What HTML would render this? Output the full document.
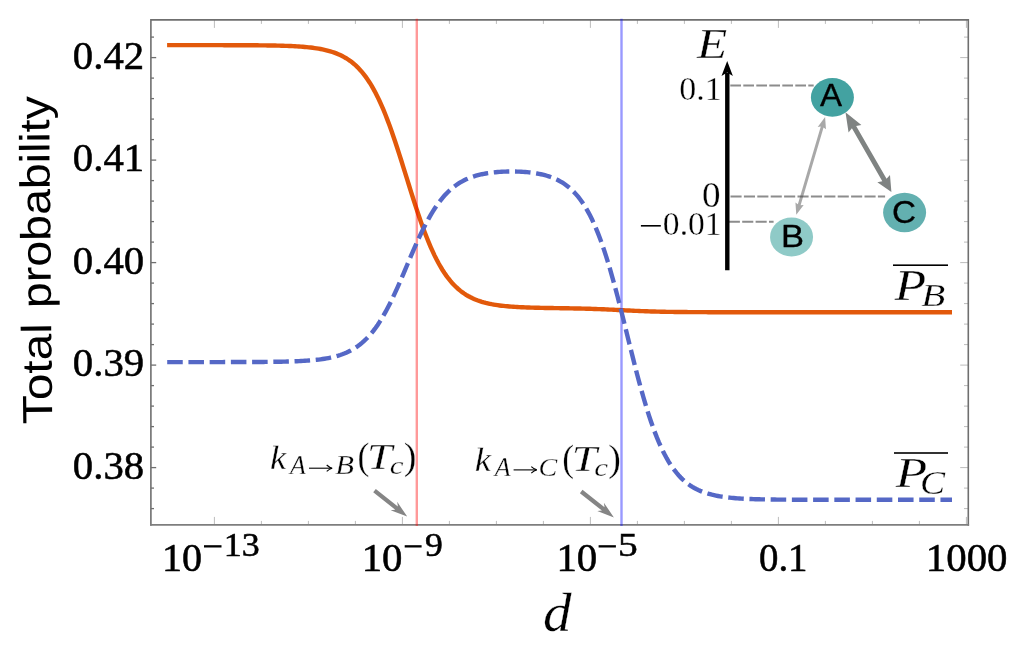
<!DOCTYPE html>
<html><head><meta charset="utf-8"><title>chart</title>
<style>
html,body{margin:0;padding:0;background:#fff;}
body{width:1024px;height:650px;overflow:hidden;}
svg{display:block;will-change:transform;}
text{font-family:"Liberation Serif",serif;fill:#000;}
.sans{font-family:"Liberation Sans",sans-serif;}
.it{font-style:italic;}
.tk{stroke:#000;stroke-width:0.55px;}
.cm{stroke:#fff;stroke-width:0.3px;}
.bl{stroke:#000;stroke-width:0.3px;}
</style></head><body>
<svg width="1024" height="650" viewBox="0 0 1024 650">
<rect width="1024" height="650" fill="#fff"/>
<g><line x1="150.9" y1="37.10" x2="154.0" y2="37.10" stroke="#6f6f6f" stroke-width="1.3"/>
<line x1="968.2" y1="37.10" x2="964.0" y2="37.10" stroke="#bcbcbc" stroke-width="1"/>
<line x1="150.9" y1="57.60" x2="156.20000000000002" y2="57.60" stroke="#6f6f6f" stroke-width="1.3"/>
<line x1="968.2" y1="57.60" x2="960.2" y2="57.60" stroke="#bcbcbc" stroke-width="1"/>
<line x1="150.9" y1="78.10" x2="154.0" y2="78.10" stroke="#6f6f6f" stroke-width="1.3"/>
<line x1="968.2" y1="78.10" x2="964.0" y2="78.10" stroke="#bcbcbc" stroke-width="1"/>
<line x1="150.9" y1="98.60" x2="154.0" y2="98.60" stroke="#6f6f6f" stroke-width="1.3"/>
<line x1="968.2" y1="98.60" x2="964.0" y2="98.60" stroke="#bcbcbc" stroke-width="1"/>
<line x1="150.9" y1="119.10" x2="154.0" y2="119.10" stroke="#6f6f6f" stroke-width="1.3"/>
<line x1="968.2" y1="119.10" x2="964.0" y2="119.10" stroke="#bcbcbc" stroke-width="1"/>
<line x1="150.9" y1="139.60" x2="154.0" y2="139.60" stroke="#6f6f6f" stroke-width="1.3"/>
<line x1="968.2" y1="139.60" x2="964.0" y2="139.60" stroke="#bcbcbc" stroke-width="1"/>
<line x1="150.9" y1="160.10" x2="156.20000000000002" y2="160.10" stroke="#6f6f6f" stroke-width="1.3"/>
<line x1="968.2" y1="160.10" x2="960.2" y2="160.10" stroke="#bcbcbc" stroke-width="1"/>
<line x1="150.9" y1="180.60" x2="154.0" y2="180.60" stroke="#6f6f6f" stroke-width="1.3"/>
<line x1="968.2" y1="180.60" x2="964.0" y2="180.60" stroke="#bcbcbc" stroke-width="1"/>
<line x1="150.9" y1="201.10" x2="154.0" y2="201.10" stroke="#6f6f6f" stroke-width="1.3"/>
<line x1="968.2" y1="201.10" x2="964.0" y2="201.10" stroke="#bcbcbc" stroke-width="1"/>
<line x1="150.9" y1="221.60" x2="154.0" y2="221.60" stroke="#6f6f6f" stroke-width="1.3"/>
<line x1="968.2" y1="221.60" x2="964.0" y2="221.60" stroke="#bcbcbc" stroke-width="1"/>
<line x1="150.9" y1="242.10" x2="154.0" y2="242.10" stroke="#6f6f6f" stroke-width="1.3"/>
<line x1="968.2" y1="242.10" x2="964.0" y2="242.10" stroke="#bcbcbc" stroke-width="1"/>
<line x1="150.9" y1="262.60" x2="156.20000000000002" y2="262.60" stroke="#6f6f6f" stroke-width="1.3"/>
<line x1="968.2" y1="262.60" x2="960.2" y2="262.60" stroke="#bcbcbc" stroke-width="1"/>
<line x1="150.9" y1="283.10" x2="154.0" y2="283.10" stroke="#6f6f6f" stroke-width="1.3"/>
<line x1="968.2" y1="283.10" x2="964.0" y2="283.10" stroke="#bcbcbc" stroke-width="1"/>
<line x1="150.9" y1="303.60" x2="154.0" y2="303.60" stroke="#6f6f6f" stroke-width="1.3"/>
<line x1="968.2" y1="303.60" x2="964.0" y2="303.60" stroke="#bcbcbc" stroke-width="1"/>
<line x1="150.9" y1="324.10" x2="154.0" y2="324.10" stroke="#6f6f6f" stroke-width="1.3"/>
<line x1="968.2" y1="324.10" x2="964.0" y2="324.10" stroke="#bcbcbc" stroke-width="1"/>
<line x1="150.9" y1="344.60" x2="154.0" y2="344.60" stroke="#6f6f6f" stroke-width="1.3"/>
<line x1="968.2" y1="344.60" x2="964.0" y2="344.60" stroke="#bcbcbc" stroke-width="1"/>
<line x1="150.9" y1="365.10" x2="156.20000000000002" y2="365.10" stroke="#6f6f6f" stroke-width="1.3"/>
<line x1="968.2" y1="365.10" x2="960.2" y2="365.10" stroke="#bcbcbc" stroke-width="1"/>
<line x1="150.9" y1="385.60" x2="154.0" y2="385.60" stroke="#6f6f6f" stroke-width="1.3"/>
<line x1="968.2" y1="385.60" x2="964.0" y2="385.60" stroke="#bcbcbc" stroke-width="1"/>
<line x1="150.9" y1="406.10" x2="154.0" y2="406.10" stroke="#6f6f6f" stroke-width="1.3"/>
<line x1="968.2" y1="406.10" x2="964.0" y2="406.10" stroke="#bcbcbc" stroke-width="1"/>
<line x1="150.9" y1="426.60" x2="154.0" y2="426.60" stroke="#6f6f6f" stroke-width="1.3"/>
<line x1="968.2" y1="426.60" x2="964.0" y2="426.60" stroke="#bcbcbc" stroke-width="1"/>
<line x1="150.9" y1="447.10" x2="154.0" y2="447.10" stroke="#6f6f6f" stroke-width="1.3"/>
<line x1="968.2" y1="447.10" x2="964.0" y2="447.10" stroke="#bcbcbc" stroke-width="1"/>
<line x1="150.9" y1="467.60" x2="156.20000000000002" y2="467.60" stroke="#6f6f6f" stroke-width="1.3"/>
<line x1="968.2" y1="467.60" x2="960.2" y2="467.60" stroke="#bcbcbc" stroke-width="1"/>
<line x1="150.9" y1="488.10" x2="154.0" y2="488.10" stroke="#6f6f6f" stroke-width="1.3"/>
<line x1="968.2" y1="488.10" x2="964.0" y2="488.10" stroke="#bcbcbc" stroke-width="1"/>
<line x1="150.9" y1="508.60" x2="154.0" y2="508.60" stroke="#6f6f6f" stroke-width="1.3"/>
<line x1="968.2" y1="508.60" x2="964.0" y2="508.60" stroke="#bcbcbc" stroke-width="1"/>
<line x1="214.40" y1="524.9" x2="214.40" y2="516.9" stroke="#bcbcbc" stroke-width="1"/>
<line x1="214.40" y1="19.9" x2="214.40" y2="27.9" stroke="#bcbcbc" stroke-width="1"/>
<line x1="261.40" y1="524.9" x2="261.40" y2="520.9" stroke="#bcbcbc" stroke-width="1"/>
<line x1="261.40" y1="19.9" x2="261.40" y2="23.9" stroke="#bcbcbc" stroke-width="1"/>
<line x1="308.40" y1="524.9" x2="308.40" y2="520.9" stroke="#bcbcbc" stroke-width="1"/>
<line x1="308.40" y1="19.9" x2="308.40" y2="23.9" stroke="#bcbcbc" stroke-width="1"/>
<line x1="355.40" y1="524.9" x2="355.40" y2="520.9" stroke="#bcbcbc" stroke-width="1"/>
<line x1="355.40" y1="19.9" x2="355.40" y2="23.9" stroke="#bcbcbc" stroke-width="1"/>
<line x1="402.40" y1="524.9" x2="402.40" y2="516.9" stroke="#bcbcbc" stroke-width="1"/>
<line x1="402.40" y1="19.9" x2="402.40" y2="27.9" stroke="#bcbcbc" stroke-width="1"/>
<line x1="449.40" y1="524.9" x2="449.40" y2="520.9" stroke="#bcbcbc" stroke-width="1"/>
<line x1="449.40" y1="19.9" x2="449.40" y2="23.9" stroke="#bcbcbc" stroke-width="1"/>
<line x1="496.40" y1="524.9" x2="496.40" y2="520.9" stroke="#bcbcbc" stroke-width="1"/>
<line x1="496.40" y1="19.9" x2="496.40" y2="23.9" stroke="#bcbcbc" stroke-width="1"/>
<line x1="543.40" y1="524.9" x2="543.40" y2="520.9" stroke="#bcbcbc" stroke-width="1"/>
<line x1="543.40" y1="19.9" x2="543.40" y2="23.9" stroke="#bcbcbc" stroke-width="1"/>
<line x1="590.40" y1="524.9" x2="590.40" y2="516.9" stroke="#bcbcbc" stroke-width="1"/>
<line x1="590.40" y1="19.9" x2="590.40" y2="27.9" stroke="#bcbcbc" stroke-width="1"/>
<line x1="637.40" y1="524.9" x2="637.40" y2="520.9" stroke="#bcbcbc" stroke-width="1"/>
<line x1="637.40" y1="19.9" x2="637.40" y2="23.9" stroke="#bcbcbc" stroke-width="1"/>
<line x1="684.40" y1="524.9" x2="684.40" y2="520.9" stroke="#bcbcbc" stroke-width="1"/>
<line x1="684.40" y1="19.9" x2="684.40" y2="23.9" stroke="#bcbcbc" stroke-width="1"/>
<line x1="731.40" y1="524.9" x2="731.40" y2="520.9" stroke="#bcbcbc" stroke-width="1"/>
<line x1="731.40" y1="19.9" x2="731.40" y2="23.9" stroke="#bcbcbc" stroke-width="1"/>
<line x1="778.40" y1="524.9" x2="778.40" y2="516.9" stroke="#bcbcbc" stroke-width="1"/>
<line x1="778.40" y1="19.9" x2="778.40" y2="27.9" stroke="#bcbcbc" stroke-width="1"/>
<line x1="825.40" y1="524.9" x2="825.40" y2="520.9" stroke="#bcbcbc" stroke-width="1"/>
<line x1="825.40" y1="19.9" x2="825.40" y2="23.9" stroke="#bcbcbc" stroke-width="1"/>
<line x1="872.40" y1="524.9" x2="872.40" y2="520.9" stroke="#bcbcbc" stroke-width="1"/>
<line x1="872.40" y1="19.9" x2="872.40" y2="23.9" stroke="#bcbcbc" stroke-width="1"/>
<line x1="919.40" y1="524.9" x2="919.40" y2="520.9" stroke="#bcbcbc" stroke-width="1"/>
<line x1="919.40" y1="19.9" x2="919.40" y2="23.9" stroke="#bcbcbc" stroke-width="1"/>
<line x1="966.40" y1="524.9" x2="966.40" y2="516.9" stroke="#bcbcbc" stroke-width="1"/>
<line x1="966.40" y1="19.9" x2="966.40" y2="27.9" stroke="#bcbcbc" stroke-width="1"/></g>
<path d="M150.9,525.75 L150.9,19.9 L968.3000000000001,19.9 L968.3000000000001,525.75" fill="none" stroke="#6f6f6f" stroke-width="1.6" stroke-linejoin="miter"/>
<line x1="150.1" y1="524.9" x2="969.1" y2="524.9" stroke="#7e7e7e" stroke-width="1.7"/>
<path d="M167.10,45.14 L169.07,45.14 L171.03,45.14 L173.00,45.14 L174.97,45.14 L176.94,45.14 L178.90,45.14 L180.87,45.14 L182.84,45.14 L184.80,45.15 L186.77,45.15 L188.74,45.15 L190.71,45.15 L192.67,45.15 L194.64,45.15 L196.61,45.15 L198.57,45.15 L200.54,45.15 L202.51,45.15 L204.48,45.15 L206.44,45.15 L208.41,45.16 L210.38,45.16 L212.34,45.16 L214.31,45.16 L216.28,45.16 L218.25,45.17 L220.21,45.17 L222.18,45.17 L224.15,45.18 L226.12,45.18 L228.08,45.18 L230.05,45.19 L232.02,45.19 L233.98,45.20 L235.95,45.20 L237.92,45.21 L239.89,45.22 L241.85,45.22 L243.82,45.23 L245.79,45.24 L247.75,45.25 L249.72,45.26 L251.69,45.27 L253.66,45.29 L255.62,45.30 L257.59,45.32 L259.56,45.34 L261.52,45.36 L263.49,45.38 L265.46,45.40 L267.43,45.43 L269.39,45.46 L271.36,45.49 L273.33,45.53 L275.29,45.57 L277.26,45.61 L279.23,45.66 L281.20,45.71 L283.16,45.77 L285.13,45.83 L287.10,45.90 L289.06,45.98 L291.03,46.06 L293.00,46.16 L294.97,46.26 L296.93,46.37 L298.90,46.50 L300.87,46.63 L302.83,46.78 L304.80,46.95 L306.77,47.13 L308.74,47.33 L310.70,47.55 L312.67,47.79 L314.64,48.06 L316.60,48.35 L318.57,48.67 L320.54,49.02 L322.51,49.41 L324.47,49.83 L326.44,50.29 L328.41,50.81 L330.37,51.36 L332.34,51.98 L334.31,52.65 L336.28,53.39 L338.24,54.19 L340.21,55.07 L342.18,56.04 L344.15,57.09 L346.11,58.24 L348.08,59.49 L350.05,60.86 L352.01,62.34 L353.98,63.96 L355.95,65.71 L357.92,67.61 L359.88,69.68 L361.85,71.91 L363.82,74.31 L365.78,76.91 L367.75,79.70 L369.72,82.70 L371.69,85.91 L373.65,89.34 L375.62,93.00 L377.59,96.89 L379.55,101.01 L381.52,105.37 L383.49,109.96 L385.46,114.78 L387.42,119.83 L389.39,125.09 L391.36,130.55 L393.32,136.20 L395.29,142.01 L397.26,147.98 L399.23,154.08 L401.19,160.27 L403.16,166.55 L405.13,172.86 L407.09,179.20 L409.06,185.52 L411.03,191.80 L413.00,198.02 L414.96,204.13 L416.93,210.13 L418.90,215.98 L420.86,221.66 L422.83,227.16 L424.80,232.46 L426.77,237.55 L428.73,242.41 L430.70,247.05 L432.67,251.45 L434.63,255.62 L436.60,259.55 L438.57,263.25 L440.54,266.73 L442.50,269.98 L444.47,273.02 L446.44,275.85 L448.41,278.48 L450.37,280.93 L452.34,283.19 L454.31,285.28 L456.27,287.22 L458.24,289.00 L460.21,290.64 L462.18,292.15 L464.14,293.54 L466.11,294.81 L468.08,295.98 L470.04,297.05 L472.01,298.03 L473.98,298.93 L475.95,299.75 L477.91,300.50 L479.88,301.18 L481.85,301.81 L483.81,302.38 L485.78,302.90 L487.75,303.37 L489.72,303.80 L491.68,304.20 L493.65,304.55 L495.62,304.88 L497.58,305.18 L499.55,305.45 L501.52,305.70 L503.49,305.92 L505.45,306.13 L507.42,306.31 L509.39,306.48 L511.35,306.64 L513.32,306.78 L515.29,306.91 L517.26,307.02 L519.22,307.13 L521.19,307.23 L523.16,307.32 L525.12,307.40 L527.09,307.47 L529.06,307.54 L531.03,307.60 L532.99,307.66 L534.96,307.72 L536.93,307.77 L538.89,307.81 L540.86,307.86 L542.83,307.90 L544.80,307.93 L546.76,307.97 L548.73,308.01 L550.70,308.04 L552.66,308.07 L554.63,308.10 L556.60,308.13 L558.57,308.16 L560.53,308.19 L562.50,308.23 L564.47,308.26 L566.44,308.29 L568.40,308.32 L570.37,308.36 L572.34,308.39 L574.30,308.43 L576.27,308.47 L578.24,308.51 L580.21,308.56 L582.17,308.60 L584.14,308.65 L586.11,308.70 L588.07,308.76 L590.04,308.82 L592.01,308.88 L593.98,308.94 L595.94,309.01 L597.91,309.08 L599.88,309.16 L601.84,309.23 L603.81,309.32 L605.78,309.40 L607.75,309.49 L609.71,309.58 L611.68,309.67 L613.65,309.77 L615.61,309.86 L617.58,309.96 L619.55,310.06 L621.52,310.16 L623.48,310.26 L625.45,310.36 L627.42,310.46 L629.38,310.55 L631.35,310.65 L633.32,310.74 L635.29,310.83 L637.25,310.92 L639.22,311.00 L641.19,311.09 L643.15,311.16 L645.12,311.24 L647.09,311.31 L649.06,311.38 L651.02,311.44 L652.99,311.50 L654.96,311.56 L656.92,311.61 L658.89,311.66 L660.86,311.71 L662.83,311.75 L664.79,311.79 L666.76,311.83 L668.73,311.86 L670.69,311.89 L672.66,311.92 L674.63,311.95 L676.60,311.98 L678.56,312.00 L680.53,312.02 L682.50,312.04 L684.47,312.06 L686.43,312.07 L688.40,312.09 L690.37,312.10 L692.33,312.11 L694.30,312.12 L696.27,312.13 L698.24,312.14 L700.20,312.15 L702.17,312.16 L704.14,312.17 L706.10,312.17 L708.07,312.18 L710.04,312.19 L712.01,312.19 L713.97,312.20 L715.94,312.20 L717.91,312.20 L719.87,312.21 L721.84,312.21 L723.81,312.21 L725.78,312.21 L727.74,312.22 L729.71,312.22 L731.68,312.22 L733.64,312.22 L735.61,312.22 L737.58,312.23 L739.55,312.23 L741.51,312.23 L743.48,312.23 L745.45,312.23 L747.41,312.23 L749.38,312.23 L751.35,312.23 L753.32,312.23 L755.28,312.23 L757.25,312.23 L759.22,312.24 L761.18,312.24 L763.15,312.24 L765.12,312.24 L767.09,312.24 L769.05,312.24 L771.02,312.24 L772.99,312.24 L774.95,312.24 L776.92,312.24 L778.89,312.24 L780.86,312.24 L782.82,312.24 L784.79,312.24 L786.76,312.24 L788.73,312.24 L790.69,312.24 L792.66,312.24 L794.63,312.24 L796.59,312.24 L798.56,312.24 L800.53,312.24 L802.50,312.24 L804.46,312.24 L806.43,312.24 L808.40,312.24 L810.36,312.24 L812.33,312.24 L814.30,312.24 L816.27,312.24 L818.23,312.24 L820.20,312.24 L822.17,312.24 L824.13,312.24 L826.10,312.24 L828.07,312.24 L830.04,312.24 L832.00,312.24 L833.97,312.24 L835.94,312.24 L837.90,312.24 L839.87,312.24 L841.84,312.24 L843.81,312.24 L845.77,312.24 L847.74,312.24 L849.71,312.24 L851.67,312.24 L853.64,312.24 L855.61,312.24 L857.58,312.24 L859.54,312.24 L861.51,312.24 L863.48,312.24 L865.44,312.24 L867.41,312.24 L869.38,312.24 L871.35,312.24 L873.31,312.24 L875.28,312.24 L877.25,312.24 L879.21,312.24 L881.18,312.24 L883.15,312.24 L885.12,312.24 L887.08,312.24 L889.05,312.24 L891.02,312.24 L892.98,312.24 L894.95,312.24 L896.92,312.24 L898.89,312.24 L900.85,312.24 L902.82,312.24 L904.79,312.24 L906.76,312.24 L908.72,312.24 L910.69,312.24 L912.66,312.24 L914.62,312.24 L916.59,312.24 L918.56,312.24 L920.53,312.24 L922.49,312.24 L924.46,312.24 L926.43,312.24 L928.39,312.24 L930.36,312.24 L932.33,312.24 L934.30,312.24 L936.26,312.24 L938.23,312.24 L940.20,312.24 L942.16,312.24 L944.13,312.24 L946.10,312.24 L948.07,312.24 L950.03,312.24 L952.00,312.24" fill="none" stroke="#e2590b" stroke-width="4.4"/>
<line x1="416.8" y1="18.7" x2="416.8" y2="526.1" stroke="#ff0000" stroke-opacity="0.4" stroke-width="2.4"/>
<line x1="621.5" y1="18.7" x2="621.5" y2="526.1" stroke="#0000ff" stroke-opacity="0.4" stroke-width="2.4"/>
<path d="M167.20,362.10 L169.17,362.10 L171.13,362.10 L173.10,362.10 L175.07,362.10 L177.03,362.10 L179.00,362.10 L180.97,362.10 L182.94,362.10 L184.90,362.10 L186.87,362.10 L188.84,362.10 L190.80,362.10 L192.77,362.09 L194.74,362.09 L196.70,362.09 L198.67,362.09 L200.64,362.09 L202.60,362.09 L204.57,362.09 L206.54,362.09 L208.51,362.09 L210.47,362.09 L212.44,362.09 L214.41,362.08 L216.37,362.08 L218.34,362.08 L220.31,362.08 L222.27,362.08 L224.24,362.07 L226.21,362.07 L228.17,362.07 L230.14,362.07 L232.11,362.06 L234.08,362.06 L236.04,362.06 L238.01,362.05 L239.98,362.05 L241.94,362.04 L243.91,362.03 L245.88,362.03 L247.84,362.02 L249.81,362.01 L251.78,362.00 L253.74,361.99 L255.71,361.98 L257.68,361.97 L259.65,361.96 L261.61,361.94 L263.58,361.93 L265.55,361.91 L267.51,361.89 L269.48,361.87 L271.45,361.85 L273.41,361.82 L275.38,361.79 L277.35,361.76 L279.31,361.73 L281.28,361.69 L283.25,361.65 L285.22,361.60 L287.18,361.55 L289.15,361.50 L291.12,361.44 L293.08,361.37 L295.05,361.30 L297.02,361.22 L298.98,361.13 L300.95,361.03 L302.92,360.92 L304.88,360.81 L306.85,360.67 L308.82,360.53 L310.78,360.37 L312.75,360.20 L314.72,360.01 L316.69,359.80 L318.65,359.57 L320.62,359.32 L322.59,359.05 L324.55,358.74 L326.52,358.41 L328.49,358.04 L330.45,357.64 L332.42,357.20 L334.39,356.72 L336.35,356.19 L338.32,355.62 L340.29,354.99 L342.26,354.29 L344.22,353.54 L346.19,352.72 L348.16,351.82 L350.12,350.84 L352.09,349.77 L354.06,348.61 L356.02,347.35 L357.99,345.98 L359.96,344.50 L361.92,342.90 L363.89,341.17 L365.86,339.30 L367.83,337.29 L369.79,335.13 L371.76,332.82 L373.73,330.35 L375.69,327.71 L377.66,324.90 L379.63,321.92 L381.59,318.77 L383.56,315.44 L385.53,311.95 L387.49,308.29 L389.46,304.48 L391.43,300.51 L393.40,296.40 L395.36,292.17 L397.33,287.82 L399.30,283.37 L401.26,278.84 L403.23,274.26 L405.20,269.63 L407.16,264.99 L409.13,260.35 L411.10,255.73 L413.06,251.16 L415.03,246.65 L417.00,242.23 L418.97,237.92 L420.93,233.72 L422.90,229.65 L424.87,225.72 L426.83,221.95 L428.80,218.34 L430.77,214.90 L432.73,211.63 L434.70,208.53 L436.67,205.60 L438.63,202.85 L440.60,200.26 L442.57,197.84 L444.54,195.57 L446.50,193.46 L448.47,191.50 L450.44,189.68 L452.40,187.99 L454.37,186.43 L456.34,184.99 L458.30,183.66 L460.27,182.44 L462.24,181.31 L464.20,180.28 L466.17,179.34 L468.14,178.48 L470.11,177.69 L472.07,176.97 L474.04,176.31 L476.01,175.71 L477.97,175.17 L479.94,174.68 L481.91,174.23 L483.87,173.83 L485.84,173.47 L487.81,173.15 L489.77,172.86 L491.74,172.61 L493.71,172.38 L495.68,172.19 L497.64,172.02 L499.61,171.87 L501.58,171.75 L503.54,171.65 L505.51,171.58 L507.48,171.53 L509.44,171.49 L511.41,171.48 L513.38,171.49 L515.34,171.52 L517.31,171.58 L519.28,171.65 L521.25,171.75 L523.21,171.87 L525.18,172.01 L527.15,172.18 L529.11,172.38 L531.08,172.61 L533.05,172.86 L535.01,173.15 L536.98,173.48 L538.95,173.84 L540.91,174.25 L542.88,174.70 L544.85,175.20 L546.82,175.75 L548.78,176.36 L550.75,177.03 L552.72,177.77 L554.68,178.59 L556.65,179.48 L558.62,180.46 L560.58,181.54 L562.55,182.72 L564.52,184.01 L566.48,185.42 L568.45,186.95 L570.42,188.63 L572.38,190.46 L574.35,192.45 L576.32,194.61 L578.29,196.96 L580.25,199.50 L582.22,202.25 L584.19,205.22 L586.15,208.43 L588.12,211.88 L590.09,215.59 L592.05,219.56 L594.02,223.81 L595.99,228.34 L597.95,233.17 L599.92,238.28 L601.89,243.69 L603.86,249.40 L605.82,255.39 L607.79,261.67 L609.76,268.22 L611.72,275.03 L613.69,282.08 L615.66,289.35 L617.62,296.81 L619.59,304.44 L621.56,312.20 L623.52,320.07 L625.49,328.00 L627.46,335.96 L629.43,343.91 L631.39,351.82 L633.36,359.65 L635.33,367.37 L637.29,374.94 L639.26,382.33 L641.23,389.53 L643.19,396.49 L645.16,403.21 L647.13,409.66 L649.09,415.84 L651.06,421.73 L653.03,427.33 L655.00,432.63 L656.96,437.64 L658.93,442.36 L660.90,446.79 L662.86,450.94 L664.83,454.82 L666.80,458.44 L668.76,461.80 L670.73,464.92 L672.70,467.82 L674.66,470.49 L676.63,472.97 L678.60,475.25 L680.57,477.35 L682.53,479.29 L684.50,481.06 L686.47,482.70 L688.43,484.19 L690.40,485.56 L692.37,486.82 L694.33,487.97 L696.30,489.02 L698.27,489.98 L700.23,490.86 L702.20,491.66 L704.17,492.39 L706.14,493.06 L708.10,493.67 L710.07,494.22 L712.04,494.73 L714.00,495.18 L715.97,495.60 L717.94,495.98 L719.90,496.33 L721.87,496.65 L723.84,496.93 L725.80,497.20 L727.77,497.43 L729.74,497.65 L731.71,497.85 L733.67,498.02 L735.64,498.19 L737.61,498.33 L739.57,498.47 L741.54,498.59 L743.51,498.70 L745.47,498.80 L747.44,498.89 L749.41,498.98 L751.37,499.05 L753.34,499.12 L755.31,499.18 L757.28,499.24 L759.24,499.29 L761.21,499.34 L763.18,499.38 L765.14,499.42 L767.11,499.45 L769.08,499.49 L771.04,499.51 L773.01,499.54 L774.98,499.56 L776.94,499.59 L778.91,499.61 L780.88,499.62 L782.85,499.64 L784.81,499.65 L786.78,499.67 L788.75,499.68 L790.71,499.69 L792.68,499.70 L794.65,499.71 L796.61,499.72 L798.58,499.73 L800.55,499.73 L802.51,499.74 L804.48,499.74 L806.45,499.75 L808.42,499.75 L810.38,499.76 L812.35,499.76 L814.32,499.77 L816.28,499.77 L818.25,499.77 L820.22,499.77 L822.18,499.78 L824.15,499.78 L826.12,499.78 L828.08,499.78 L830.05,499.78 L832.02,499.79 L833.98,499.79 L835.95,499.79 L837.92,499.79 L839.89,499.79 L841.85,499.79 L843.82,499.79 L845.79,499.79 L847.75,499.79 L849.72,499.79 L851.69,499.79 L853.65,499.79 L855.62,499.80 L857.59,499.80 L859.55,499.80 L861.52,499.80 L863.49,499.80 L865.46,499.80 L867.42,499.80 L869.39,499.80 L871.36,499.80 L873.32,499.80 L875.29,499.80 L877.26,499.80 L879.22,499.80 L881.19,499.80 L883.16,499.80 L885.12,499.80 L887.09,499.80 L889.06,499.80 L891.03,499.80 L892.99,499.80 L894.96,499.80 L896.93,499.80 L898.89,499.80 L900.86,499.80 L902.83,499.80 L904.79,499.80 L906.76,499.80 L908.73,499.80 L910.69,499.80 L912.66,499.80 L914.63,499.80 L916.60,499.80 L918.56,499.80 L920.53,499.80 L922.50,499.80 L924.46,499.80 L926.43,499.80 L928.40,499.80 L930.36,499.80 L932.33,499.80 L934.30,499.80 L936.26,499.80 L938.23,499.80 L940.20,499.80 L942.17,499.80 L944.13,499.80 L946.10,499.80 L948.07,499.80 L950.03,499.80 L952.00,499.80" fill="none" stroke="#5568c6" stroke-width="4.4" stroke-dasharray="15.55 5.676"/>
<text class="tk" transform="matrix(1.0340,0,0,1,72.87,68.70)" font-size="39.40">0.42</text>
<text class="tk" transform="matrix(1.0340,0,0,1,72.87,171.20)" font-size="39.40">0.41</text>
<text class="tk" transform="matrix(1.0340,0,0,1,72.87,273.70)" font-size="39.40">0.40</text>
<text class="tk" transform="matrix(1.0340,0,0,1,72.87,376.20)" font-size="39.40">0.39</text>
<text class="tk" transform="matrix(1.0340,0,0,1,72.87,478.70)" font-size="39.40">0.38</text>
<text class="tk" transform="matrix(1.0181,0,0,1,161.89,570.90)" font-size="39.40">10</text><rect x="204" y="545.2" width="17.5" height="2.3" fill="#000"/><text class="tk" transform="matrix(1.0372,0,0,1,223.75,555.50)" font-size="34.60">13</text>
<text class="tk" transform="matrix(1.0355,0,0,1,361.63,570.90)" font-size="39.40">10</text><rect x="404.7" y="545.2" width="16.900000000000034" height="2.3" fill="#000"/><text class="tk" transform="matrix(1.0284,0,0,1,424.93,555.50)" font-size="34.60">9</text>
<text class="tk" transform="matrix(1.0384,0,0,1,556.42,570.90)" font-size="39.40">10</text><rect x="598.6" y="545.2" width="17.299999999999955" height="2.3" fill="#000"/><text class="tk" transform="matrix(1.1416,0,0,1,617.93,555.50)" font-size="34.60">5</text>
<text class="tk" transform="matrix(0.9865,0,0,1,758.95,570.90)" font-size="39.40">0.1</text>
<text class="tk" transform="matrix(1.0369,0,0,1,925.83,570.90)" font-size="39.40">1000</text>
<text class="sans" transform="translate(52.2,423) rotate(-90.57) translate(0.00,0) scale(1.1311,1)" x="-0.84" y="0" font-size="42.17">Total</text>
<text class="sans" transform="translate(52.2,423) rotate(-90.57) translate(118.10,0) scale(1.1030,1)" x="-2.74" y="0" font-size="42.17">probability</text>
<text class="it cm" transform="matrix(1.0442,0,0,1,542.99,631.25)" font-size="54.61">d</text>
<text class="it cm" transform="matrix(1.0596,0,0,1,270.10,469.40)" font-size="34.68">k</text><text class="it cm" transform="matrix(0.9794,0,0,1,290.03,474.40)" font-size="26.52">A</text><path d="M309.00,468.20 L331.70,468.20" stroke="#000" stroke-width="1.1" fill="none"/><path d="M326.70,465.00 Q329.45,467.60 332.20,468.20 Q329.45,468.80 326.70,471.40" stroke="#000" stroke-width="1.1" fill="none"/><text class="it cm" transform="matrix(1.1574,0,0,1,335.29,474.27)" font-size="26.52">B</text><text class="cm" transform="matrix(0.9523,0,0,1,357.59,468.84)" font-size="37.47">(</text><text class="it cm" transform="matrix(1.2949,0,0,1,367.06,469.40)" font-size="34.96">T</text><text class="it cm" transform="matrix(1.2549,0,0,1,389.67,474.35)" font-size="24.79">c</text><text class="cm" transform="matrix(1.0161,0,0,1,403.76,468.84)" font-size="37.47">)</text>
<text class="it cm" transform="matrix(1.0596,0,0,1,474.70,471.10)" font-size="34.68">k</text><text class="it cm" transform="matrix(0.9794,0,0,1,494.63,476.10)" font-size="26.52">A</text><path d="M513.60,469.90 L536.30,469.90" stroke="#000" stroke-width="1.1" fill="none"/><path d="M531.30,466.70 Q534.05,469.30 536.80,469.90 Q534.05,470.50 531.30,473.10" stroke="#000" stroke-width="1.1" fill="none"/><text class="it cm" transform="matrix(1.0745,0,0,1,538.56,475.84)" font-size="26.12">C</text><text class="cm" transform="matrix(0.9523,0,0,1,562.19,470.54)" font-size="37.47">(</text><text class="it cm" transform="matrix(1.2949,0,0,1,571.66,471.10)" font-size="34.96">T</text><text class="it cm" transform="matrix(1.2549,0,0,1,594.27,476.05)" font-size="24.79">c</text><text class="cm" transform="matrix(1.0161,0,0,1,608.36,470.54)" font-size="37.47">)</text>
<path d="M395.25,509.78 L390.60,510.17 L407.20,516.60 L397.19,501.87 L397.86,506.49 L375.81,488.96 L373.19,492.24 Z" fill="#858585"/>
<path d="M601.94,510.60 L597.28,511.00 L613.90,517.40 L603.86,502.69 L604.54,507.31 L582.50,489.85 L579.90,493.15 Z" fill="#858585"/>
<text class="it cm" transform="matrix(1.1989,0,0,1,696.99,57.50)" font-size="41.22">E</text>
<text class="cm" transform="matrix(0.9880,0,0,1,679.14,99.68)" font-size="34.41">0.1</text>
<text class="cm" transform="matrix(1.0490,0,0,1,702.01,207.15)" font-size="35.41">0</text>
<rect x="640.9" y="225.0" width="19.9" height="1.6" fill="#000"/>
<text class="cm" transform="matrix(0.9716,0,0,1,662.86,234.58)" font-size="34.56">0.01</text>
<line x1="730.3" y1="85.6" x2="813.7" y2="85.6" stroke="#8c8c8c" stroke-width="2.0" stroke-dasharray="10.7 2.3"/>
<line x1="730.5" y1="196.4" x2="885.1" y2="196.4" stroke="#8c8c8c" stroke-width="2.0" stroke-dasharray="11.1 2.3"/>
<line x1="728.8" y1="221.8" x2="773.6" y2="221.8" stroke="#8c8c8c" stroke-width="2.0" stroke-dasharray="11.1 2.3"/>
<line x1="727.3" y1="270.3" x2="727.3" y2="73" stroke="#000" stroke-width="4.4"/>
<path d="M727.2,61.0 L732.9,76 L727.2,72.6 L721.5,76 Z" fill="#000"/>
<ellipse cx="832.4" cy="97.4" rx="21.5" ry="19.4" fill="#43a2a1"/>
<ellipse cx="791.55" cy="236.95" rx="21.5" ry="19.5" fill="#8fcac7"/>
<ellipse cx="904.6" cy="212.5" rx="21.5" ry="19.7" fill="#63b0b0"/>
<path d="M797.84,204.36 L795.43,202.45 L796.30,214.70 L803.68,204.89 L800.62,205.18 L823.56,127.44 L825.97,129.35 L825.10,117.10 L817.72,126.91 L820.78,126.62 Z" fill="#4a4a4a" fill-opacity="0.48"/>
<path d="M882.31,181.13 L877.34,182.21 L891.40,192.00 L889.99,174.93 L886.56,178.69 L856.16,125.90 L861.39,125.07 L845.50,112.30 L848.57,132.46 L851.91,128.34 Z" fill="#7f8382"/>
<text class="sans bl" transform="matrix(1.0767,0,0,1,819.90,105.60)" font-size="30.72">A</text>
<text class="sans bl" transform="matrix(1.1149,0,0,1,780.93,247.10)" font-size="31.01">B</text>
<text class="sans bl" transform="matrix(1.0532,0,0,1,891.94,222.78)" font-size="31.55">C</text>
<rect x="893" y="264.4" width="55" height="1.6" fill="#000"/>
<text class="it cm" transform="matrix(1.1639,0,0,1,894.86,299.90)" font-size="44.12">P</text>
<text class="it cm" transform="matrix(1.2718,0,0,1,921.21,305.75)" font-size="30.91">B</text>
<rect x="894" y="452.2" width="54" height="1.6" fill="#000"/>
<text class="it cm" transform="matrix(1.2057,0,0,1,895.86,486.90)" font-size="42.60">P</text>
<text class="it cm" transform="matrix(1.1241,0,0,1,920.03,494.07)" font-size="33.43">C</text>
</svg></body></html>
